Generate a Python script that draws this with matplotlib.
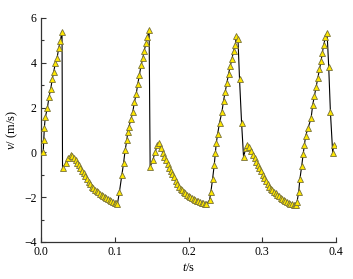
import matplotlib
matplotlib.use("Agg")
import matplotlib.pyplot as plt
from matplotlib.ticker import MultipleLocator, FormatStrFormatter, FuncFormatter

# Time (s) and velocity (m/s)
t_vals = [
    0.0030, 0.0037, 0.0045, 0.0058, 0.0086, 0.0109, 0.0132, 0.0153, 0.0172, 0.0194, 0.0217, 0.0240, 0.0262, 0.0285,
    0.0292, 0.0335, 0.0371, 0.0403,
    0.0425, 0.0447, 0.0469, 0.0491, 0.0513, 0.0535, 0.0557, 0.0579, 0.0601, 0.0623, 0.0645, 0.0667, 0.0689,
    0.0711, 0.0733, 0.0755, 0.0777, 0.0799, 0.0821, 0.0843, 0.0865, 0.0887, 0.0909, 0.0931, 0.0953, 0.0975,
    0.0997, 0.1019, 0.1036,
    0.1064, 0.1097, 0.1119, 0.1141, 0.1164, 0.1176, 0.1192, 0.1220, 0.1245, 0.1266, 0.1290, 0.1312, 0.1334,
    0.1358, 0.1381, 0.1398, 0.1426, 0.1443, 0.1466,
    0.1480, 0.1517, 0.1548, 0.1579, 0.1606,
    0.1628, 0.1650, 0.1672, 0.1694, 0.1716, 0.1738, 0.1760, 0.1782, 0.1804, 0.1826, 0.1848, 0.1870, 0.1892,
    0.1914, 0.1936, 0.1958, 0.1980, 0.2002, 0.2024, 0.2046, 0.2068, 0.2090, 0.2112, 0.2134, 0.2156, 0.2178,
    0.2200, 0.2222, 0.2244,
    0.2285, 0.2304, 0.2326, 0.2349, 0.2363, 0.2376, 0.2394, 0.2421, 0.2454, 0.2475, 0.2498, 0.2521, 0.2543,
    0.2566, 0.2589, 0.2611, 0.2634, 0.2648, 0.2671, 0.2692, 0.2720,
    0.2747, 0.2776, 0.2794, 0.2825, 0.2852,
    0.2874, 0.2896, 0.2918, 0.2940, 0.2962, 0.2984, 0.3006, 0.3028, 0.3050, 0.3072, 0.3094, 0.3116, 0.3138,
    0.3160, 0.3182, 0.3204, 0.3226, 0.3248, 0.3270, 0.3292, 0.3314, 0.3336, 0.3358, 0.3380, 0.3402, 0.3424,
    0.3446, 0.3462,
    0.3472, 0.3494, 0.3510, 0.3535, 0.3555, 0.3572, 0.3588, 0.3620, 0.3662, 0.3684, 0.3707, 0.3730, 0.3752,
    0.3775, 0.3798, 0.3815, 0.3833, 0.3856, 0.3879, 0.3901, 0.3924, 0.3955, 0.3969,
]
v_vals = [
    0.00, 0.55, 1.10, 1.57, 1.97, 2.49, 2.83, 3.28, 3.59, 3.98, 4.20, 4.65, 4.99, 5.39,
    -0.71, -0.49, -0.26, -0.12,
    -0.16, -0.26, -0.36, -0.46, -0.57, -0.69, -0.81, -0.93, -1.05, -1.17, -1.30, -1.42, -1.53,
    -1.61, -1.68, -1.74, -1.79, -1.84, -1.89, -1.94, -1.98, -2.03, -2.07, -2.12, -2.16, -2.20,
    -2.24, -2.28, -2.31,
    -1.75, -1.00, -0.49, 0.10, 0.55, 0.92, 1.15, 1.48, 1.82, 2.24, 2.59, 3.05, 3.46,
    3.90, 4.20, 4.54, 4.87, 5.14, 5.46,
    -0.64, -0.34, 0.03, 0.33, 0.40,
    0.20, -0.02, -0.19, -0.36, -0.54, -0.70, -0.83, -0.98, -1.12, -1.27, -1.42, -1.55, -1.63,
    -1.70, -1.76, -1.82, -1.88, -1.93, -1.98, -2.03, -2.08, -2.12, -2.16, -2.19, -2.22, -2.25,
    -2.27, -2.29, -2.31,
    -2.13, -1.75, -1.20, -0.56, -0.04, 0.40, 0.80, 1.33, 1.82, 2.31, 2.71, 3.11, 3.50,
    3.86, 4.16, 4.54, 4.79, 5.20, 5.05, 3.26, 1.30,
    -0.22, 0.20, 0.33, 0.25, 0.05,
    -0.12, -0.27, -0.42, -0.56, -0.71, -0.85, -1.00, -1.14, -1.28, -1.42, -1.53, -1.62, -1.70,
    -1.77, -1.83, -1.90, -1.96, -2.02, -2.07, -2.13, -2.18, -2.22, -2.27, -2.29, -2.31, -2.33,
    -2.35, -2.36,
    -2.20, -1.77, -1.20, -0.61, -0.07, 0.33, 0.73, 1.08, 1.52, 2.12, 2.52, 2.93, 3.31,
    3.71, 4.09, 4.45, 4.79, 5.14, 5.34, 3.83, 1.82, -0.01, 0.33,
]

x_label = "$t$/s"
y_label = "$v$/ (m/s)"

plt.rcParams['font.family'] = ['Liberation Serif', 'DejaVu Serif']
plt.rcParams['mathtext.fontset'] = 'custom'
plt.rcParams['mathtext.it'] = 'Liberation Serif:italic'
plt.rcParams['mathtext.rm'] = 'Liberation Serif'

fig = plt.figure(figsize=(3.53, 2.79), dpi=100)
ax = fig.add_axes([41/353, 1-242/279, (336-41)/353, (242-18)/279])

ax.plot(t_vals, v_vals, color='black', linewidth=0.8, zorder=2)
ax.plot(t_vals, v_vals, linestyle='none', marker='^', markersize=4.7,
        markerfacecolor='#ffe800', markeredgecolor='#77703a', markeredgewidth=0.6, zorder=3)

ax.set_xlim(0.0, 0.4)
ax.set_ylim(-4, 6)
ax.xaxis.set_major_locator(MultipleLocator(0.1))
ax.yaxis.set_major_locator(MultipleLocator(2))
ax.yaxis.set_minor_locator(MultipleLocator(1))
ax.xaxis.set_major_formatter(FormatStrFormatter('%.1f'))
ax.yaxis.set_major_formatter(FuncFormatter(lambda v, p: ('\u2212%d' % -v) if v < 0 else '%d' % v))

for s in ['top', 'right']:
    ax.spines[s].set_visible(False)
for s in ['left', 'bottom']:
    ax.spines[s].set_linewidth(0.9)
    ax.spines[s].set_color('#333333')

ax.tick_params(which='major', direction='in', length=3.5, width=0.8, labelsize=8.5, pad=3, colors='#333333')
ax.tick_params(which='minor', direction='in', length=2, width=0.8, colors='#333333')
for lab in ax.get_xticklabels() + ax.get_yticklabels():
    lab.set_color('black')

ax.set_xlabel(x_label, fontsize=9, labelpad=3)
ax.set_ylabel(y_label, fontsize=9, labelpad=3)

fig.savefig('out.png', dpi=100)
